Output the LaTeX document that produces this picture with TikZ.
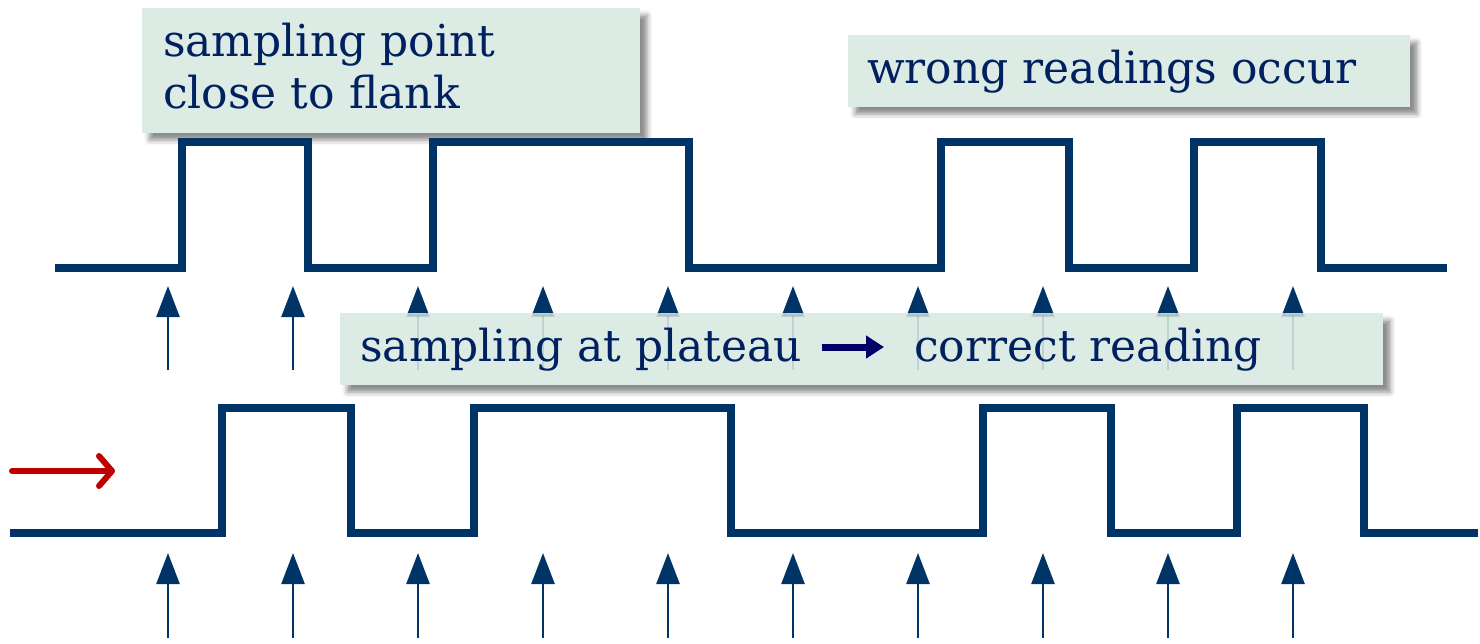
\documentclass[tikz,border=0pt]{standalone}
\usepackage{fontspec}
\setmainfont{DejaVu Serif}
\usetikzlibrary{arrows.meta,shadows.blur}
\definecolor{navy}{HTML}{003366}
\definecolor{textnavy}{HTML}{002060}
\definecolor{mint}{HTML}{DCEBE4}
\definecolor{signalred}{HTML}{C00000}
\definecolor{arrowblue}{HTML}{000066}
\begin{document}
\begin{tikzpicture}[x=1pt,y=-1pt,
  notebox/.style={fill=mint, draw=none, inner sep=0pt, anchor=north west,
    blur shadow={shadow xshift=7pt, shadow yshift=-7pt, shadow blur radius=5pt, shadow opacity=45}},
  notetext/.style={anchor=base west, inner sep=0pt, text=textnavy, font=\fontsize{44}{53}\selectfont},
  signal/.style={draw=navy, line width=8pt, line join=miter},
  sample/.style={draw=navy, line width=2.5pt, -{Triangle[length=31pt,width=23pt]}}]
\useasboundingbox (0,0) rectangle (1480,643);

% upper annotation boxes
\node[notebox, minimum width=498pt, minimum height=125pt] (flankbox) at (142,8) {};
\node[notetext] (flank1) at (163,56) {sampling point};
\node[notetext] (flank2) at (163,108) {close to flank};
\node[notebox, minimum width=562pt, minimum height=72pt] (wrongbox) at (848,35) {};
\node[notetext] (wrong) at (867,83) {wrong readings occur};

% first signal: sampling near the edges
\draw[signal] (55,268) -- (182,268) -- (182,142) -- (308,142) -- (308,268)
  -- (433,268) -- (433,142) -- (689,142) -- (689,268) -- (941,268) -- (941,142)
  -- (1069,142) -- (1069,268) -- (1194,268) -- (1194,142) -- (1321,142)
  -- (1321,268) -- (1447,268);

% sampling instants, upper row
\foreach \i in {0,...,9}{
  \coordinate (ua\i) at (168+125*\i,370);
  \coordinate (ub\i) at (168+125*\i,286);
  \draw[sample] (ua\i) -- (ub\i);
}

% middle annotation box; the arrows behind it show through faintly
\node[notebox, minimum width=1043pt, minimum height=72pt] (platbox) at (340,313) {};
\begin{scope}
  \clip (platbox.north west) rectangle (platbox.south east);
  \foreach \i in {0,...,9}{
    \draw[sample, opacity=0.13] (ua\i) -- (ub\i);
  }
\end{scope}
\node[notetext] (plat) at (360,361) {sampling at plateau};
\node[notetext] (correct) at (914,361) {correct reading};
\coordinate (ta) at (822,347);
\coordinate (tb) at (884,347);
\draw[arrowblue, line width=7pt, -{Triangle[length=18pt,width=22pt]}] (ta) -- (tb);

% second signal, shifted to the right
\draw[signal] (10,533) -- (222,533) -- (222,408) -- (351,408) -- (351,533)
  -- (474,533) -- (474,408) -- (731,408) -- (731,533) -- (983,533) -- (983,408)
  -- (1111,408) -- (1111,533) -- (1237,533) -- (1237,408) -- (1364,408)
  -- (1364,533) -- (1478,533);

% shift indicator
\coordinate (sa) at (12,471);
\coordinate (sb) at (115,471);
\draw[signalred, line width=6pt, line cap=round,
  -{Straight Barb[length=13pt,width=30pt,line cap=round,line join=round]}] (sa) -- (sb);

% sampling instants, lower row
\foreach \i in {0,...,9}{
  \coordinate (la\i) at (168+125*\i,638);
  \coordinate (lb\i) at (168+125*\i,553);
  \draw[sample] (la\i) -- (lb\i);
}
\end{tikzpicture}
\end{document}
